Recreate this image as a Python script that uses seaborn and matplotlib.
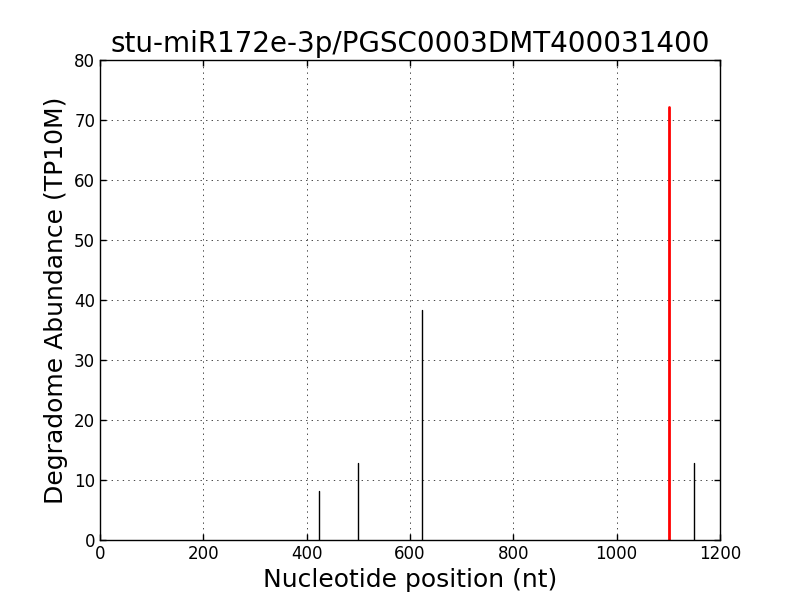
import pandas as pd
import matplotlib
matplotlib.use("Agg")
import matplotlib.pyplot as plt
import seaborn as sns

# cleavage sites
positions = [424, 500, 623, 1101, 1150]
abundance = [8.2, 12.8, 38.3, 72.1, 12.8]
is_target = [False, False, False, True, False]

title = "stu-miR172e-3p/PGSC0003DMT400031400"

# two points per stem: baseline and peak
rows = []
for i, (p, a, t) in enumerate(zip(positions, abundance, is_target)):
    rows.append({"id": i, "pos": p, "abund": 0, "target": t})
    rows.append({"id": i, "pos": p, "abund": a, "target": t})
stems = pd.DataFrame(rows)

sns.set_style("white", {
    "axes.edgecolor": "black",
    "axes.labelcolor": "black",
    "text.color": "black",
    "xtick.color": "black",
    "ytick.color": "black",
    "xtick.direction": "in",
    "ytick.direction": "in",
})
plt.rcParams["font.family"] = ["DejaVu Sans"]
plt.rcParams["xtick.top"] = True
plt.rcParams["ytick.right"] = True
plt.rcParams["xtick.bottom"] = True
plt.rcParams["ytick.left"] = True

fig, ax = plt.subplots(figsize=(8, 6), dpi=100)
fig.subplots_adjust(left=0.125, right=0.9, bottom=0.1, top=0.9)

sns.lineplot(data=stems[~stems.target], x="pos", y="abund", units="id",
             estimator=None, color="black", linewidth=1, ax=ax, sort=False)
sns.lineplot(data=stems[stems.target], x="pos", y="abund", units="id",
             estimator=None, color="red", linewidth=2, ax=ax, sort=False)

ax.set_xlim(0, 1200)
ax.set_ylim(0, 80)
ax.set_xticks(range(0, 1201, 200))
ax.set_yticks(range(0, 81, 10))
ax.tick_params(labelsize=12, length=4, width=1, color="black", labelcolor="black")
# classic-style dotted grid: 1pt on, 3pt off
ax.grid(True, color="black", linestyle=(0, (2, 6)), linewidth=0.5)
ax.set_axisbelow(True)
for s in ax.spines.values():
    s.set_linewidth(1)
    s.set_color("black")

ax.set_title(title, fontsize=20, color="black")
ax.set_xlabel("Nucleotide position (nt)", fontsize=18, color="black")
ax.set_ylabel("Degradome Abundance (TP10M)", fontsize=18, color="black")

fig.savefig("out.png", dpi=100)
